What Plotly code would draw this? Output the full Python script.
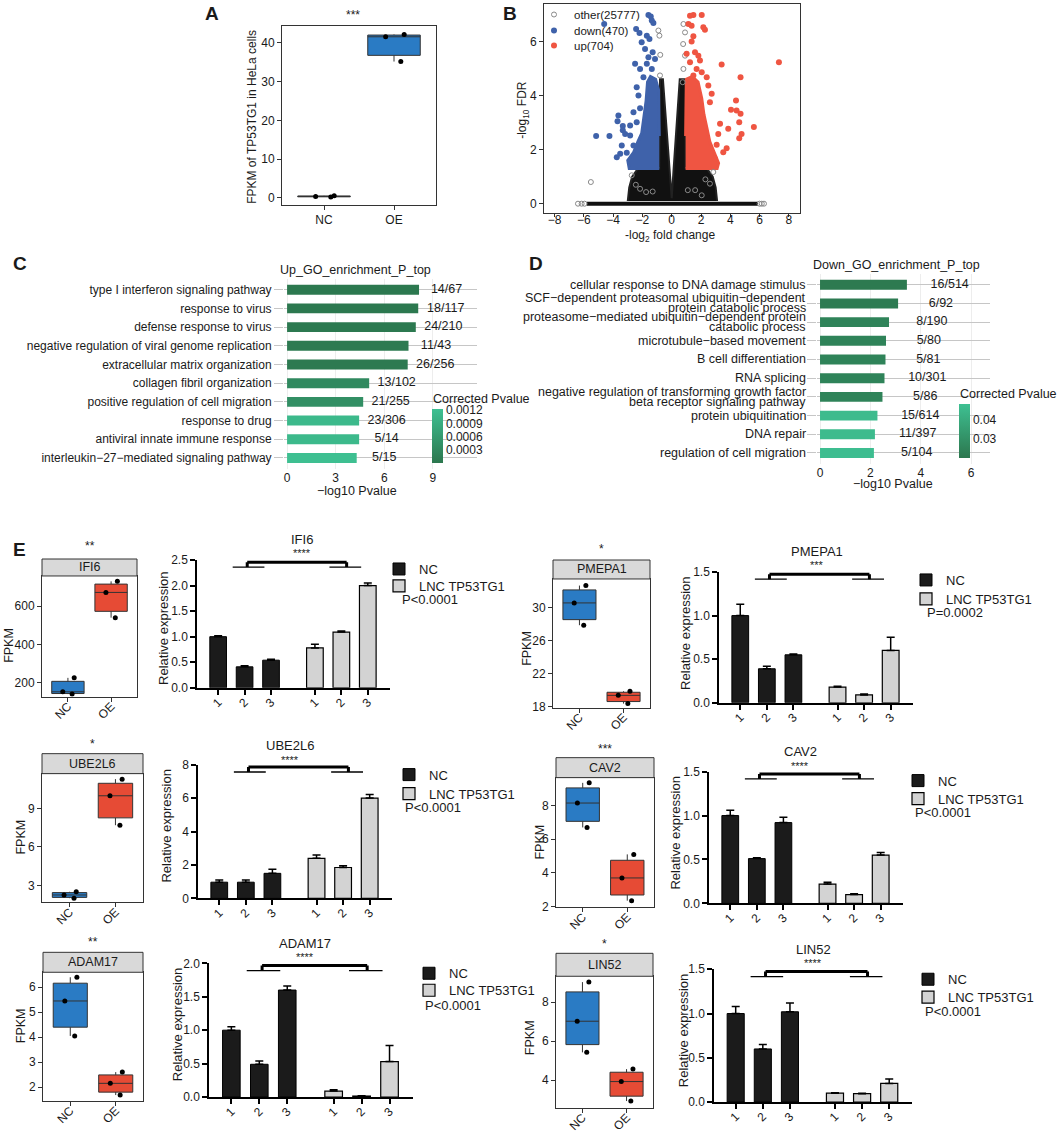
import plotly.graph_objects as go

W, H = 1059, 1131
FONT = "Arial, Liberation Sans, sans-serif"
INK = "#1a1a1a"
BLUE = "#2a7bc4"
RED = "#e64b35"
VBLUE = "#3f62aa"
VRED = "#ef5542"

# ---------------- data ----------------
# A: FPKM of TP53TG1
A_NC = [0.5, 0.3, 0.2]
A_OE = [42.2, 41.6, 35.2]

# B: volcano (dense regions as envelopes, sparse points)
OTHER_ENV_X = [-3.0, -2.9, -2.7, -2.3, -0.85, -0.85, -0.8, -0.6, -0.45, -0.28, -0.12, 0.0,
               0.12, 0.28, 0.45, 0.55, 0.95, 0.95, 0.95, 2.4, 2.8, 3.0, 3.1]
OTHER_ENV_Y = [0.1, 0.6, 1.0, 1.3, 1.3, 3.0, 4.6, 4.6, 3.5, 2.5, 1.2, 0.2,
               1.2, 2.5, 3.5, 4.6, 4.6, 3.0, 1.3, 1.3, 1.0, 0.6, 0.1]
BASE_X = [-5.8, 5.9]
BASE_Y = [0, 0]
BASE_OUT_X = [-6.4, -6.15, -5.95, 6.0, 6.15, 6.3]
BASE_OUT_Y = [0, 0, 0, 0, 0, 0]
OTHER_X = [-5.52, -2.73, -2.16, -1.75, -2.45, -0.84, -0.91, -0.8, -0.78, 2.05, 2.61, 2.84, 2.3,
           0.8, 0.91, 0.91, 0.8, 0.75, 0.78, 1.1, -1.3, 1.6]
OTHER_Y = [0.8, 1.05, 0.55, 0.43, 0.7, 6.21, 6.4, 4.74, 5.5, 0.31, 0.74, 1.17, 0.9,
           6.64, 6.33, 5.47, 4.98, 4.49, 5.9, 0.5, 0.45, 0.5]
BLUE_ENV_X = [-0.85, -2.9, -3.0, -2.6, -2.3, -2.05, -1.9, -1.75, -1.65, -1.45, -1.1, -0.9, -0.85]
BLUE_ENV_Y = [1.3, 1.3, 1.6, 1.9, 2.3, 2.6, 3.2, 3.8, 4.5, 4.7, 4.6, 4.2, 2.5]
RED_ENV_X = [0.95, 3.1, 3.2, 2.9, 2.6, 2.4, 2.2, 2.05, 1.8, 1.4, 1.0, 0.95]
RED_ENV_Y = [1.3, 1.3, 1.5, 1.9, 2.3, 2.8, 3.3, 3.9, 4.5, 4.7, 4.6, 2.5]
DOWN_X = [-5.16, -4.25, -4.61, -3.64, -3.70, -3.75, -3.34, -3.34, -2.84, -3.07, -2.50, -2.43, -2.20,
          -1.59, -1.43, -1.36, -1.25, -1.70, -1.52, -2.05, -1.82, -1.30, -1.59, -1.14, -2.16, -1.70,
          -1.36, -2.39, -2.27, -2.16, -1.93, -2.61, -2.39, -2.84, -2.61, -3.41, -3.18, -3.52]
DOWN_Y = [2.50, 2.50, 6.64, 3.26, 3.05, 1.72, 2.87, 2.71, 2.52, 1.88, 5.17, 6.46, 6.31,
          6.97, 6.92, 6.77, 6.68, 6.21, 6.09, 5.97, 5.72, 5.60, 5.41, 5.35, 4.98, 5.17,
          4.98, 4.30, 4.00, 3.53, 4.67, 3.38, 3.01, 2.89, 2.15, 2.15, 2.58, 1.85]
UP_X = [7.32, 3.41, 4.70, 4.39, 4.05, 4.43, 4.70, 4.61, 5.61, 4.77, 4.61, 3.86, 3.30, 3.18, 3.07,
        3.75, 3.52, 2.95, 2.39, 2.50, 2.73, 2.61, 2.16, 2.27, 2.05, 1.48, 1.25, 1.14, 1.36, 1.48,
        1.36, 1.59, 1.82, 1.93, 1.25, 1.70, 2.05, 1.48, 1.02]
UP_Y = [5.23, 5.14, 4.67, 3.81, 3.47, 3.44, 3.32, 3.01, 2.83, 2.58, 2.42, 2.77, 2.95, 2.58, 2.18,
        2.05, 1.90, 1.66, 4.67, 4.37, 4.06, 3.75, 6.52, 6.43, 6.97, 6.97, 6.95, 6.64, 6.58, 6.19,
        5.99, 5.60, 5.47, 5.29, 5.23, 4.98, 4.86, 4.74, 5.54]
N_OTHER, N_DOWN, N_UP = 25777, 470, 704

# C: up GO enrichment
C_TERMS = ["type I interferon signaling pathway", "response to virus", "defense response to virus",
           "negative regulation of viral genome replication", "extracellular matrix organization",
           "collagen fibril organization", "positive regulation of cell migration", "response to drug",
           "antiviral innate immune response", "interleukin\u221227\u2212mediated signaling pathway"]
C_LOGP = [8.15, 8.1, 7.95, 7.5, 7.45, 5.07, 4.7, 4.45, 4.45, 4.3]
C_PADJ = [0.00002, 0.00002, 0.00003, 0.00005, 0.00005, 0.0003, 0.0004, 0.0011, 0.0011, 0.0012]
C_COUNTS = ["14/67", "18/117", "24/210", "11/43", "26/256", "13/102", "21/255", "23/306", "5/14", "5/15"]

# D: down GO enrichment
D_TERMS = ["cellular response to DNA damage stimulus",
           "SCF\u2212dependent proteasomal ubiquitin\u2212dependent\nprotein catabolic process",
           "proteasome\u2212mediated ubiquitin\u2212dependent protein\ncatabolic process",
           "microtubule\u2212based movement", "B cell differentiation", "RNA splicing",
           "negative regulation of transforming growth factor\nbeta receptor signaling pathway",
           "protein ubiquitination", "DNA repair", "regulation of cell migration"]
D_LOGP = [3.45, 3.1, 2.74, 2.62, 2.6, 2.56, 2.48, 2.28, 2.18, 2.14]
D_PADJ = [0.0205, 0.021, 0.024, 0.024, 0.024, 0.024, 0.024, 0.046, 0.046, 0.047]
D_COUNTS = ["16/514", "6/92", "8/190", "5/80", "5/81", "10/301", "5/86", "15/614", "11/397", "5/104"]

# E: genes
E_GENES = ["IFI6", "PMEPA1", "UBE2L6", "CAV2", "ADAM17", "LIN52"]
FPKM_NC = [[140, 152, 225], [27.9, 30.6, 32.7], [2.0, 2.25, 2.5], [6.7, 8.15, 9.35], [4.05, 5.45, 6.4], [5.42, 7.02, 9.03]]
FPKM_OE = [[540, 672, 730], [18.4, 19.4, 19.9], [7.7, 10.0, 11.3], [2.35, 3.7, 5.1], [1.68, 2.15, 2.6], [2.92, 3.92, 4.56]]
BOX_STARS = ["**", "*", "*", "***", "**", "*"]
REPS = ["1", "2", "3"]
REL_NC = [[1.0, 0.41, 0.54], [1.0, 0.39, 0.55], [0.97, 0.97, 1.5], [1.0, 0.51, 0.92], [1.0, 0.49, 1.6], [1.0, 0.6, 1.02]]
REL_NC_SD = [[0.02, 0.02, 0.02], [0.13, 0.03, 0.01], [0.13, 0.13, 0.25], [0.06, 0.01, 0.06], [0.05, 0.05, 0.06], [0.08, 0.05, 0.1]]
REL_LNC = [[0.78, 1.09, 2.0], [0.18, 0.09, 0.6], [2.4, 1.85, 6.0], [0.22, 0.1, 0.55], [0.09, 0.015, 0.53], [0.1, 0.095, 0.21]]
REL_LNC_SD = [[0.07, 0.02, 0.05], [0.01, 0.01, 0.15], [0.2, 0.1, 0.22], [0.02, 0.01, 0.03], [0.02, 0.005, 0.24], [0.005, 0.005, 0.05]]
BAR_STARS = ["****", "***", "****", "****", "****", "****"]
P_TEXT = ["P<0.0001", "P=0.0002", "P<0.0001", "P<0.0001", "P<0.0001", "P<0.0001"]

# ---------------- layout constants (pixels) ----------------
BOX_RECT = [(42, 575, 137, 696), (553, 578, 650, 707), (42, 773, 143, 902),
            (556, 777, 654, 907), (43, 972, 143, 1101), (556, 976, 653, 1108)]
STRIP_TOP = [558, 559, 753, 757, 952, 953]
BOX_YRANGE = [(126, 758), (17.9, 33.5), (1.67, 11.73), (1.95, 9.66), (1.44, 6.6), (2.56, 9.33)]
BOX_TICK = [(200, 200), (18, 4), (3, 3), (2, 2), (2, 1), (4, 2)]
BOX_STAR_Y = [545, 548, 743, 748, 942, 944]
FPKM_LAB = [(9, 645), (527, 648), (21, 837), (540, 842), (21, 1026), (530, 1038)]

BAR_RECT = [(197, 559, 390, 687), (719, 571, 913, 702), (198, 764, 392, 898),
            (709, 771, 903, 903), (209, 963, 413, 1097), (714, 969, 912, 1102)]
BAR_YMAX = [2.5, 1.5, 8, 1.5, 2.0, 1.5]
BAR_DTICK = [0.5, 0.5, 2, 0.5, 0.5, 0.5]
BAR_TITLE = [(302, 538), (817, 550), (290, 745), (800, 751), (305, 943), (813, 949)]
REL_LAB = [(164, 628), (686, 633), (167, 826), (676, 833), (177, 1025), (683, 1031)]
# legend text start x, NC row y, LNC row y
LEG_POS = [(418, 567, 584), (945, 578, 597), (428, 773, 792), (937, 779, 797), (448, 972, 989), (947, 978, 996)]
P_POS = [(400, 599), (925, 612), (403, 807), (913, 812), (423, 1005), (923, 1011)]
NC_POS = [0, 1, 2]
LNC_POS = [3.66, 4.66, 5.66]

fig = go.Figure()
annotations = []
shapes = []
legends = {}
n_ax = [0]


def px(x):
    return x / W


def py(y):
    return 1 - y / H


def note(text, x, y, size=12, xanchor="center", yanchor="middle", **kw):
    annotations.append(dict(text=text, x=px(x), y=py(y), xref="paper", yref="paper", showarrow=False,
                            xanchor=xanchor, yanchor=yanchor,
                            font=dict(size=size, family=FONT, color=INK), **kw))


def legend_at(text_x, row_y, size):
    # one legend per entry so every row sits exactly where the reference has it
    name = "legend" if not legends else "legend%d" % (len(legends) + 1)
    legends[name] = dict(x=px(text_x - 39), y=py(row_y - 14), xanchor="left", yanchor="top",
                         font=dict(size=size, family=FONT, color=INK), bgcolor="rgba(0,0,0,0)",
                         itemwidth=30)
    return name


def add_axes(rect, xa, ya):
    n_ax[0] += 1
    s = "" if n_ax[0] == 1 else str(n_ax[0])
    x0, y0, x1, y1 = rect
    base = dict(automargin=False, showgrid=False, zeroline=False,
                tickfont=dict(size=12, family=FONT, color=INK))
    xd = {**base, "domain": [x0 / W, x1 / W], "anchor": "y" + s, **xa}
    yd = {**base, "domain": [1 - y1 / H, 1 - y0 / H], "anchor": "x" + s, **ya}
    fig.update_layout(**{"xaxis" + s: xd, "yaxis" + s: yd})
    return "x" + s, "y" + s


frame = dict(showline=True, mirror=True, linecolor="#333", linewidth=1, ticks="outside",
             ticklen=4, tickcolor="#333")


def box_pair(xr, yr, nc, oe, nc_col, oe_col):
    for name, vals, col in (("NC", nc, nc_col), ("OE", oe, oe_col)):
        fig.add_trace(go.Box(x=[name] * len(vals), y=vals, xaxis=xr, yaxis=yr, fillcolor=col,
                             line=dict(color="#333", width=1), boxpoints="all", jitter=0.5,
                             pointpos=0, marker=dict(color="black", size=5), width=0.75,
                             whiskerwidth=0, quartilemethod="linear", showlegend=False,
                             hoverinfo="y"))


# ---------------- A ----------------
xa, ya = add_axes((282, 24, 436, 203),
                  dict(type="category", categoryorder="array", categoryarray=["NC", "OE"],
                       range=[-0.6, 1.6], **frame),
                  dict(range=[-1.8, 44.4], dtick=10, **frame))
box_pair(xa, ya, A_NC, A_OE, BLUE, BLUE)
note("<b>A</b>", 212, 12, 19)
note("***", 353, 13, 12)
note("FPKM of TP53TG1 in HeLa cells", 252, 115, 12, textangle=-90)

# ---------------- B ----------------
xb, yb = add_axes((544, 2, 800, 211),
                  dict(range=[-8.72, 8.76], tickvals=[-8, -6, -4, -2, 0, 2, 4, 6, 8],
                       ticklabelstandoff=-7, **{**frame, "ticklen": 3}),
                  dict(range=[-0.33, 7.38], dtick=2, **frame))
fig.add_trace(go.Scatter(x=OTHER_ENV_X, y=OTHER_ENV_Y, xaxis=xb, yaxis=yb, fill="toself",
                         fillcolor="#111", mode="lines", line=dict(color="#222", width=2),
                         showlegend=False, hoverinfo="skip"))
fig.add_trace(go.Scatter(x=BASE_X, y=BASE_Y, xaxis=xb, yaxis=yb, mode="lines",
                         line=dict(color="#111", width=4), showlegend=False, hoverinfo="skip"))
fig.add_trace(go.Scatter(x=BASE_OUT_X, y=BASE_OUT_Y, xaxis=xb, yaxis=yb, mode="markers",
                         marker=dict(symbol="circle-open", color="#888", size=5), showlegend=False))
fig.add_trace(go.Scatter(x=BLUE_ENV_X, y=BLUE_ENV_Y, xaxis=xb, yaxis=yb, fill="toself",
                         fillcolor=VBLUE, mode="lines", line=dict(color=VBLUE, width=3),
                         showlegend=False, hoverinfo="skip"))
fig.add_trace(go.Scatter(x=RED_ENV_X, y=RED_ENV_Y, xaxis=xb, yaxis=yb, fill="toself",
                         fillcolor=VRED, mode="lines", line=dict(color=VRED, width=3),
                         showlegend=False, hoverinfo="skip"))
fig.add_trace(go.Scatter(x=OTHER_X, y=OTHER_Y, xaxis=xb, yaxis=yb, mode="markers",
                         name="other(%d)" % N_OTHER, legend=legend_at(573, 12, 11.5),
                         marker=dict(symbol="circle-open", color="#8a8a8a", size=5)))
fig.add_trace(go.Scatter(x=DOWN_X, y=DOWN_Y, xaxis=xb, yaxis=yb, mode="markers",
                         name="down(%d)" % N_DOWN, legend=legend_at(573, 28, 11.5),
                         marker=dict(color=VBLUE, size=6)))
fig.add_trace(go.Scatter(x=UP_X, y=UP_Y, xaxis=xb, yaxis=yb, mode="markers",
                         name="up(%d)" % N_UP, legend=legend_at(573, 43, 11.5),
                         marker=dict(color=VRED, size=6)))
note("<b>B</b>", 510, 12, 19)
note("-log<sub>10</sub> FDR", 523, 108, 12, textangle=-90)
note("-log<sub>2</sub> fold change", 670, 234, 12)

GREENS = [[0, "#2c774e"], [1, "#3ec092"]]

# ---------------- C ----------------
xc, yc = add_axes((284, 277, 477, 468),
                  dict(range=[-0.19, 11.73], tickvals=[0, 3, 6, 9], showgrid=True, gridcolor="#ededed"),
                  dict(type="category", categoryorder="array", categoryarray=C_TERMS,
                       range=[len(C_TERMS) - 0.4, -0.6], showgrid=True, gridcolor="#c6c6c6",
                       ticks="outside", ticklen=9, tickcolor="#c6c6c6"))
fig.add_trace(go.Bar(x=C_LOGP, y=C_TERMS, orientation="h", xaxis=xc, yaxis=yc, width=0.53,
                     showlegend=False,
                     marker=dict(color=C_PADJ, colorscale=GREENS, cmin=0, cmax=0.00122, line=dict(width=0),
                                 showscale=True,
                                 colorbar=dict(x=px(432), xanchor="left", y=py(462), yanchor="bottom",
                                               len=54, lenmode="pixels", thickness=11, xpad=0, ypad=0,
                                               outlinewidth=0, tickvals=[0.0003, 0.0006, 0.0009, 0.0012],
                                               tickformat=".4f", ticks="",
                                               tickfont=dict(size=12, family=FONT, color=INK)))))
fig.add_trace(go.Scatter(x=[v + 1.7 for v in C_LOGP], y=C_TERMS, mode="text", text=C_COUNTS,
                         xaxis=xc, yaxis=yc, textfont=dict(size=12.5, family=FONT, color=INK),
                         showlegend=False))
note("<b>C</b>", 20, 262, 19)
note("Up_GO_enrichment_P_top", 278, 268, 12.5, xanchor="left")
note("\u2212log10 Pvalue", 357, 490, 12.5)
note("Corrected Pvalue", 431, 398, 12.5, xanchor="left")

# ---------------- D ----------------
xd, yd = add_axes((817, 272, 990, 463),
                  dict(range=[-0.12, 6.75], tickvals=[0, 2, 4, 6], showgrid=True, gridcolor="#ededed"),
                  dict(type="category", categoryorder="array", categoryarray=D_TERMS,
                       range=[len(D_TERMS) - 0.4, -0.6], showgrid=True, gridcolor="#c6c6c6",
                       ticks="outside", ticklen=9, tickcolor="#c6c6c6", showticklabels=False))
fig.add_trace(go.Bar(x=D_LOGP, y=D_TERMS, orientation="h", xaxis=xd, yaxis=yd, width=0.53,
                     showlegend=False,
                     marker=dict(color=D_PADJ, colorscale=GREENS, cmin=0.0195, cmax=0.048, line=dict(width=0),
                                 showscale=True,
                                 colorbar=dict(x=px(959), xanchor="left", y=py(457), yanchor="bottom",
                                               len=54, lenmode="pixels", thickness=11, xpad=0, ypad=0,
                                               outlinewidth=0, tickvals=[0.03, 0.04], tickformat=".2f",
                                               ticks="", tickfont=dict(size=12, family=FONT, color=INK)))))
fig.add_trace(go.Scatter(x=[v + 1.7 for v in D_LOGP], y=D_TERMS, mode="text", text=D_COUNTS,
                         xaxis=xd, yaxis=yd, textfont=dict(size=12.5, family=FONT, color=INK),
                         showlegend=False))
for term in D_TERMS:
    lines = term.split("\n")
    shifts = [0] if len(lines) == 1 else [5, -5]
    for line, sh in zip(lines, shifts):
        annotations.append(dict(text=line, x=px(808), xref="paper", y=term, yref=yd, yshift=sh,
                                xanchor="right", yanchor="middle", showarrow=False,
                                font=dict(size=12.5, family=FONT, color=INK)))
note("<b>D</b>", 536, 262, 19)
note("Down_GO_enrichment_P_top", 811, 263, 12.5, xanchor="left")
note("\u2212log10 Pvalue", 893, 483, 12.5)
note("Corrected Pvalue", 958, 393, 12.5, xanchor="left")

# ---------------- E ----------------
note("<b>E</b>", 19, 548, 19)
for i, gene in enumerate(E_GENES):
    # box plot with facet strip
    x0, y0, x1, y1 = BOX_RECT[i]
    t0, dt = BOX_TICK[i]
    xe, ye = add_axes(BOX_RECT[i],
                      dict(type="category", categoryorder="array", categoryarray=["NC", "OE"],
                           range=[-0.6, 1.6], tickangle=-45, ticklabelstandoff=-7, **frame),
                      dict(range=list(BOX_YRANGE[i]), tick0=t0, dtick=dt, **frame))
    box_pair(xe, ye, FPKM_NC[i], FPKM_OE[i], BLUE, RED)
    shapes.append(dict(type="rect", xref="paper", yref="paper", x0=px(x0), x1=px(x1),
                       y0=py(y0), y1=py(STRIP_TOP[i]), fillcolor="#d9d9d9",
                       line=dict(color="#333", width=1)))
    note(gene, (x0 + x1) / 2, (y0 + STRIP_TOP[i]) / 2, 12.5)
    note(BOX_STARS[i], (x0 + x1) / 2, BOX_STAR_Y[i], 12)
    note("FPKM", FPKM_LAB[i][0], FPKM_LAB[i][1], 12.5, textangle=-90)

    # relative expression bar chart
    ymax = BAR_YMAX[i]
    lx, ly_nc, ly_lnc = LEG_POS[i]
    axis_line = dict(showline=True, linecolor="black", linewidth=1.5, ticks="outside",
                     ticklen=5, tickwidth=1.5, tickcolor="black")
    xr, yr = add_axes(BAR_RECT[i],
                      dict(range=[-0.8, 6.5], tickvals=NC_POS + LNC_POS, ticktext=REPS + REPS,
                           tickangle=-45, ticklabelstandoff=-4, **axis_line),
                      dict(range=[0, ymax], dtick=BAR_DTICK[i],
                           tickformat=".1f" if BAR_DTICK[i] < 1 else "d", **axis_line))
    fig.add_trace(go.Bar(x=NC_POS, y=REL_NC[i], xaxis=xr, yaxis=yr, width=0.63, name="NC",
                         legend=legend_at(lx, ly_nc, 13),
                         marker=dict(color="#1b1b1b", line=dict(color="black", width=1)),
                         error_y=dict(type="data", array=REL_NC_SD[i], arrayminus=[0, 0, 0],
                                      symmetric=False, color="black", thickness=1.5, width=4)))
    fig.add_trace(go.Bar(x=LNC_POS, y=REL_LNC[i], xaxis=xr, yaxis=yr, width=0.63, name="LNC TP53TG1",
                         legend=legend_at(lx, ly_lnc, 13),
                         marker=dict(color="#d3d3d3", line=dict(color="black", width=1.2)),
                         error_y=dict(type="data", array=REL_LNC_SD[i], arrayminus=[0, 0, 0],
                                      symmetric=False, color="black", thickness=1.5, width=4)))
    # significance bracket
    yt, yn = 0.983 * ymax, 0.945 * ymax
    left, right = NC_POS[1] + 0.1, LNC_POS[1] + 0.2
    for sx0, sy0, sx1, sy1, w in ((left, yt, right, yt, 3), (left, yt, left, yn, 3),
                                  (right, yt, right, yn, 3),
                                  (NC_POS[1] - 0.45, yn, NC_POS[1] + 0.75, yn, 1.3),
                                  (LNC_POS[1] - 0.45, yn, LNC_POS[1] + 0.75, yn, 1.3)):
        shapes.append(dict(type="line", xref=xr, yref=yr, x0=sx0, y0=sy0, x1=sx1, y1=sy1,
                           line=dict(color="black", width=w)))
    tx, ty = BAR_TITLE[i]
    note(gene, tx, ty, 13)
    note(BAR_STARS[i], tx, ty + 14, 11)
    note("Relative expression", REL_LAB[i][0], REL_LAB[i][1], 13, textangle=-90)
    note(P_TEXT[i], P_POS[i][0], P_POS[i][1], 13, xanchor="left")

fig.update_layout(width=W, height=H, margin=dict(l=0, r=0, t=0, b=0), paper_bgcolor="white",
                  plot_bgcolor="white", font=dict(family=FONT, color=INK), showlegend=True,
                  annotations=annotations, shapes=shapes, **legends)
# drop the default 8px page margin so the figure sits at the window's top-left corner
fig.write_html("out.html", config={"displayModeBar": False},
               post_script="document.body.style.margin='0px';")
